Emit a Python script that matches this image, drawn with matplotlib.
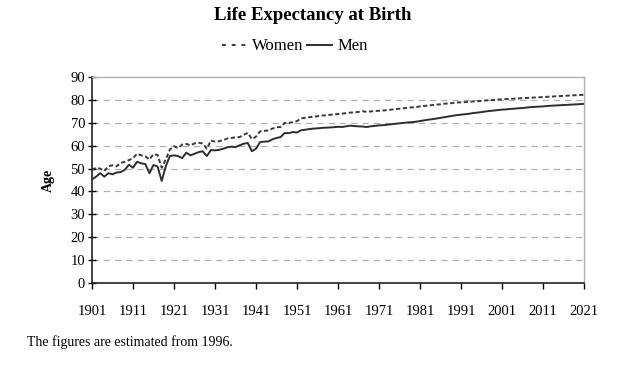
import numpy as np
import matplotlib
matplotlib.use("Agg")
import matplotlib.pyplot as plt

plt.rcParams['font.family'] = ['Liberation Serif', 'DejaVu Serif']

# ---- data ----
years = list(range(1901, 2022))

women = [
    49.4, 50.4, 50.0, 49.0, 51.0, 51.5, 51.0, 52.5, 53.0, 53.7,   # 1901-1910
    54.6, 56.5, 55.8, 55.4, 54.0, 56.3, 56.0, 50.4, 54.0, 58.4,   # 1911-1920
    59.8, 59.0, 60.5, 60.8, 60.2, 61.0, 61.3, 61.0, 58.7, 62.3,   # 1921-1930
    61.8, 62.0, 62.4, 63.2, 63.4, 63.7, 63.8, 64.8, 65.6, 62.9,   # 1931-1940
    64.0, 66.3, 66.5, 66.7, 67.5, 68.1, 68.2, 70.0, 70.0, 70.3,   # 1941-1950
    70.8, 72.0, 72.2, 72.5, 72.7, 72.9, 73.2, 73.3, 73.5, 73.7,   # 1951-1960
    73.9, 74.0, 74.3, 74.5, 74.6, 74.8, 75.1, 74.8, 75.0, 75.2,   # 1961-1970
    75.3, 75.4, 75.6, 75.8, 76.0, 76.2, 76.4, 76.6, 76.8, 76.9,   # 1971-1980
    77.2, 77.4, 77.6, 77.8, 78.0, 78.1, 78.4, 78.5, 78.7, 78.9,   # 1981-1990
    79.0, 79.1, 79.2, 79.4, 79.5, 79.6, 79.8, 79.9, 80.0, 80.2,   # 1991-2000
    80.3, 80.4, 80.5, 80.6, 80.7, 80.8, 80.9, 81.0, 81.1, 81.2,   # 2001-2010
    81.3, 81.4, 81.5, 81.6, 81.7, 81.8, 81.9, 82.0, 82.1, 82.2,   # 2011-2020
    82.3,                                                         # 2021
]

men = [
    45.3, 46.5, 48.0, 46.5, 48.0, 47.5, 48.3, 48.5, 49.5, 51.7,
    50.4, 53.0, 52.3, 52.0, 48.0, 51.6, 50.9, 44.6, 51.1, 55.5,
    55.8, 55.5, 54.6, 57.0, 55.8, 56.5, 57.2, 57.6, 55.5, 58.1,
    58.0, 58.2, 58.7, 59.3, 59.6, 59.4, 60.2, 60.9, 61.2, 57.6,
    58.7, 61.6, 61.8, 61.9, 62.8, 63.4, 63.8, 65.6, 65.5, 66.0,
    65.8, 66.8, 67.0, 67.3, 67.5, 67.6, 67.8, 67.9, 68.0, 68.1,
    68.3, 68.2, 68.5, 68.8, 68.6, 68.5, 68.4, 68.2, 68.5, 68.7,
    68.9, 69.0, 69.2, 69.4, 69.6, 69.8, 70.0, 70.2, 70.3, 70.5,
    70.8, 71.1, 71.4, 71.6, 71.9, 72.2, 72.5, 72.8, 73.1, 73.4,
    73.6, 73.8, 74.0, 74.3, 74.5, 74.7, 75.0, 75.2, 75.4, 75.6,
    75.8, 75.9, 76.1, 76.2, 76.4, 76.5, 76.7, 76.9, 77.0, 77.1,
    77.2, 77.4, 77.5, 77.6, 77.7, 77.8, 77.9, 78.0, 78.1, 78.2,
    78.3,
]

x_ticks = list(range(1901, 2022, 10))
y_ticks = list(range(0, 91, 10))

# ---- figure ----
fig = plt.figure(figsize=(6.25, 3.8), dpi=100)
ax = fig.add_axes([0.1472, 0.2553, 0.7872, 0.5417])

ax.plot(years, women, color='#3a3a3a', lw=1.4, ls=(0, (2.2, 1.3)), label='Women')
ax.plot(years, men, color='#2e2e2e', lw=1.4, label='Men')

ax.set_xlim(1901, 2021)
ax.set_ylim(0, 90)
ax.set_xticks(x_ticks)
ax.set_yticks(y_ticks)

for v in y_ticks[1:-1]:
    ax.axhline(v, color='#b0b0b0', lw=0.9, ls=(0, (5, 4)), zorder=0)

for s in ['top', 'right']:
    ax.spines[s].set_color('#b0b0b0')
    ax.spines[s].set_linewidth(1.0)
for s in ['left', 'bottom']:
    ax.spines[s].set_color('#222222')
    ax.spines[s].set_linewidth(1.2)

ax.tick_params(axis='x', direction='out', length=4, width=1, pad=12, labelsize=10.5)
ax.tick_params(axis='y', direction='inout', length=6, width=1, pad=2, labelsize=10.5)

ax.set_ylabel('Age', fontsize=10, fontweight='bold', labelpad=11)

fig.text(0.50, 0.958, 'Life Expectancy at Birth', ha='center', va='center',
         fontsize=13.5, fontweight='bold')

leg = fig.legend(loc='center', bbox_to_anchor=(0.472, 0.878), ncol=2, frameon=False,
                 fontsize=12, handlelength=1.5, handletextpad=0.3, columnspacing=0.2)
leg.get_lines()[0].set_linestyle((0, (2, 3)))

fig.text(0.043, 0.1, 'The figures are estimated from 1996.', ha='left', va='center',
         fontsize=10)

fig.savefig('out.png', dpi=100)
